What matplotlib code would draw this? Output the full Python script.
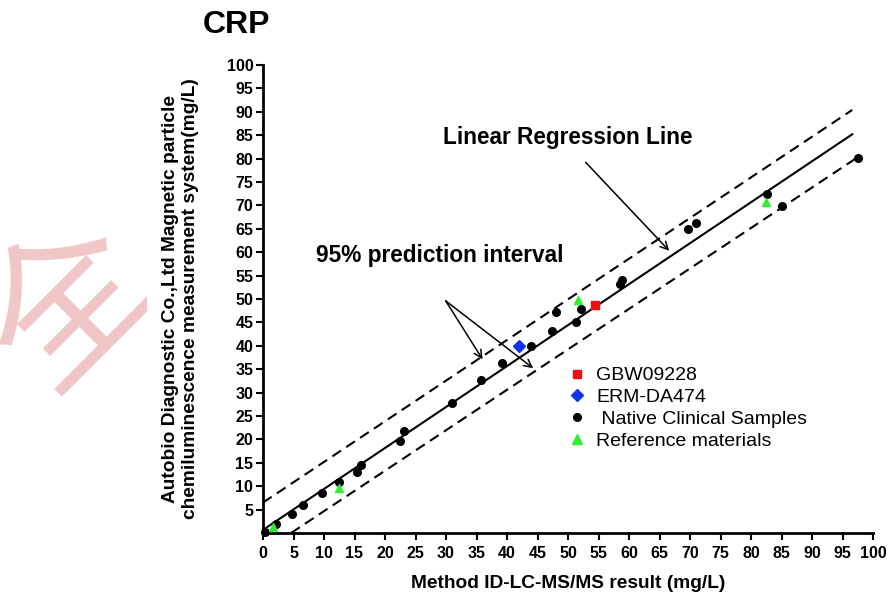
import matplotlib
matplotlib.use("Agg")
import matplotlib.pyplot as plt
from matplotlib.lines import Line2D
from matplotlib.patches import Rectangle

# ---------------- data ----------------
native_x = [0.4, 2.2, 4.7, 6.5, 9.7, 12.5, 15.4, 16.1, 22.5, 23.1, 31.0, 35.8, 39.1,
            44.0, 47.3, 48.0, 51.3, 52.1, 58.5, 58.8, 69.7, 71.0, 82.6, 85.0, 97.5]
native_y = [0.3, 1.9, 4.1, 6.0, 8.6, 11.0, 13.0, 14.6, 19.6, 21.8, 27.7, 32.7, 36.4,
            40.0, 43.2, 47.3, 45.1, 47.9, 53.2, 54.0, 64.9, 66.2, 72.4, 69.9, 80.1]
ref_x = [1.7, 12.4, 51.6, 82.5]
ref_y = [1.2, 9.7, 49.8, 70.7]
gbw_x = [54.5]
gbw_y = [48.7]
erm_x = [41.9]
erm_y = [40.0]

reg_x = [0.5, 96.6]
reg_y = [1.1, 85.2]
upper_x = [0.0, 96.6]
upper_y = [6.5, 90.4]
lower_x = [4.6, 97.5]
lower_y = [0.0, 80.3]

ticks = list(range(0, 101, 5))
yticks = list(range(5, 101, 5))

series_labels = ["GBW09228", "ERM-DA474", " Native Clinical Samples", "Reference materials"]

FONT = "Liberation Sans"

fig = plt.figure(figsize=(8.88, 5.98), dpi=100)

# watermark (behind the pasted chart area)
fig.text(72/888, 1 - 308/598, "全", fontsize=115, color="#f0c6c6", rotation=45,
         ha="center", va="center", family=["Noto Sans CJK SC", "DejaVu Sans"], zorder=-3)
fig.patches.append(Rectangle((147/888, 0), 1, 1 - 40/598, transform=fig.transFigure,
                             facecolor="white", edgecolor="none", zorder=-2))

ax = fig.add_axes([263/888, 1 - 533/598, 610/888, 468/598])
ax.patch.set_alpha(0)

ax.plot(reg_x, reg_y, color="black", lw=1.5)
ax.plot(upper_x, upper_y, color="black", lw=1.5, ls=(0, (5, 3)))
ax.plot(lower_x, lower_y, color="black", lw=1.5, ls=(0, (5, 3)))

ax.plot(native_x, native_y, "o", color="black", ms=5.5, zorder=5, clip_on=False)
ax.plot(ref_x, ref_y, "^", color="#33ee33", ms=6, zorder=5, clip_on=False)
ax.plot(gbw_x, gbw_y, "s", color="#ee1111", ms=6, zorder=5)
ax.plot(erm_x, erm_y, "D", color="#1133ee", ms=6.5, zorder=5)

ax.set_xlim(0, 100)
ax.set_ylim(0, 100)
ax.set_xticks(ticks)
ax.set_yticks(yticks)
for lab in ax.get_xticklabels() + ax.get_yticklabels():
    lab.set_fontweight("bold")
    lab.set_fontsize(11.5)
    lab.set_family(FONT)
ax.tick_params(direction="out", length=5, width=1.5, pad=2)
ax.tick_params(axis="x", pad=4.5)
for s in ["top", "right"]:
    ax.spines[s].set_visible(False)
for s in ["left", "bottom"]:
    ax.spines[s].set_linewidth(2)

ax.set_xlabel("Method ID-LC-MS/MS result (mg/L)", fontsize=13.8, fontweight="bold",
              family=FONT, labelpad=10)
ax.set_ylabel("Autobio Diagnostic Co.,Ltd Magnetic particle\nchemiluminescence measurement system(mg/L)",
              fontsize=13.8, fontweight="bold", family=FONT, labelpad=20, linespacing=1.2)

fig.text(236/888, 1 - 25/598, "CRP", fontsize=23, fontweight="bold", family=FONT,
         ha="center", va="center")

ax.text(50.0, 84.6, "Linear Regression Line", fontsize=16.3, fontweight="bold",
        family=FONT, ha="center", va="center")
ax.text(29.0, 59.2, "95% prediction interval", fontsize=16.3, fontweight="bold",
        family=FONT, ha="center", va="center")

arrow_kw = dict(arrowstyle="->", color="black", lw=1.1, mutation_scale=14,
                shrinkA=0, shrinkB=0)
ax.annotate("", xy=(66.6, 60.3), xytext=(52.9, 79.2), arrowprops=arrow_kw)
ax.annotate("", xy=(36.0, 37.1), xytext=(29.95, 49.6), arrowprops=arrow_kw)
ax.annotate("", xy=(44.3, 35.2), xytext=(29.95, 49.6), arrowprops=arrow_kw)

handles = [
    Line2D([], [], ls="none", marker="s", color="#ee1111", ms=6),
    Line2D([], [], ls="none", marker="D", color="#1133ee", ms=6),
    Line2D([], [], ls="none", marker="o", color="black", ms=5.5),
    Line2D([], [], ls="none", marker="^", color="#33ee33", ms=7),
]
ax.legend(handles, series_labels, loc="upper left", bbox_to_anchor=(559/888, 1 - 357/598),
          bbox_transform=fig.transFigure, frameon=False, handlelength=0.8,
          handletextpad=0.6, labelspacing=0.22, borderpad=0,
          prop={"family": FONT, "size": 14})

fig.savefig("out.png", dpi=100)
